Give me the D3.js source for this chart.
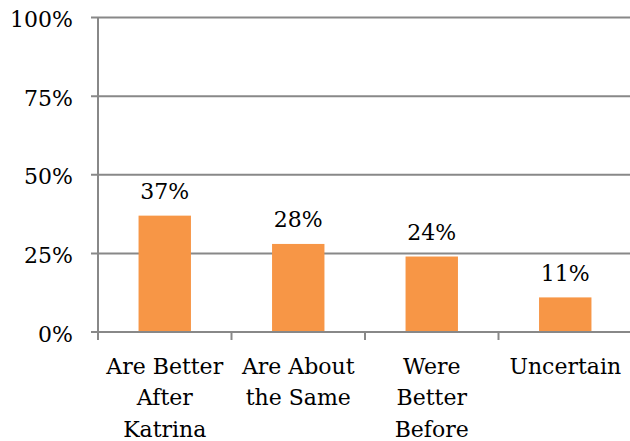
<!DOCTYPE html>
<html>
<head>
<meta charset="utf-8">
<script src="https://cdn.jsdelivr.net/npm/d3@7"></script>
<style>
  html, body { margin: 0; padding: 0; background: #fff; }
  svg { display: block; }
  text { font-family: "DejaVu Serif", serif; fill: #000; }
</style>
</head>
<body>
<svg id="chart" width="630" height="441"></svg>
<script>
// Survey responses
const categories = [
  ["Are Better", "After", "Katrina"],
  ["Are About", "the Same"],
  ["Were", "Better", "Before"],
  ["Uncertain"]
];
const values = [37, 28, 24, 11];
const yTicks = [0, 25, 50, 75, 100];

const svg = d3.select("#chart");
const plotLeft = 98, plotRight = 632, plotTop = 17.5, plotBottom = 332;
const axisColor = "#888888";
const barColor = "#F79646";
const fontSize = 22;

const keys = categories.map((c, i) => i);

const y = d3.scaleLinear().domain([0, 100]).range([plotBottom, plotTop]);
const xBand = d3.scaleBand().domain(keys).range([plotLeft, plotRight]).padding(0);
const xBar = d3.scaleBand().domain(keys).range([plotLeft, plotRight])
  .paddingInner(0.6075).paddingOuter(0.30375);

// horizontal gridlines with short ticks to the left of the axis
svg.append("g").selectAll("line").data(yTicks).join("line")
  .attr("x1", plotLeft - 7).attr("x2", plotRight)
  .attr("y1", d => y(d)).attr("y2", d => y(d))
  .attr("stroke", axisColor).attr("stroke-width", 2);

// y tick labels
svg.append("g").selectAll("text").data(yTicks).join("text")
  .attr("x", 73).attr("y", d => y(d) + 9.5)
  .attr("text-anchor", "end")
  .style("font-size", fontSize + "px")
  .text(d => d + "%");

// bars
svg.append("g").selectAll("rect").data(values).join("rect")
  .attr("x", (d, i) => xBar(i))
  .attr("width", xBar.bandwidth())
  .attr("y", d => y(d))
  .attr("height", d => y(0) - y(d))
  .attr("fill", barColor);

// value labels
svg.append("g").selectAll("text").data(values).join("text")
  .attr("x", (d, i) => xBar(i) + xBar.bandwidth() / 2)
  .attr("y", d => y(d) - 16.5)
  .attr("text-anchor", "middle")
  .style("font-size", fontSize + "px")
  .text(d => d + "%");

// y axis line
svg.append("line")
  .attr("x1", plotLeft).attr("x2", plotLeft)
  .attr("y1", plotTop).attr("y2", plotBottom)
  .attr("stroke", axisColor).attr("stroke-width", 2);

// x axis line and category boundary ticks
svg.append("line")
  .attr("x1", plotLeft - 7).attr("x2", plotRight)
  .attr("y1", plotBottom).attr("y2", plotBottom)
  .attr("stroke", axisColor).attr("stroke-width", 2);
const bounds = keys.map(k => xBand(k)).concat([xBand(keys[keys.length - 1]) + xBand.bandwidth()]);
svg.append("g").selectAll("line").data(bounds).join("line")
  .attr("x1", d => d).attr("x2", d => d)
  .attr("y1", plotBottom).attr("y2", plotBottom + 8)
  .attr("stroke", axisColor).attr("stroke-width", 2);

// category labels
const catG = svg.append("g").selectAll("text").data(categories).join("text")
  .attr("text-anchor", "middle")
  .style("font-size", fontSize + "px");
catG.selectAll("tspan").data((d, i) => d.map(line => ({ line, i }))).join("tspan")
  .attr("x", d => xBand(d.i) + xBand.bandwidth() / 2)
  .attr("y", (d, j) => 374 + j * 31.3)
  .text(d => d.line);
</script>
</body>
</html>
